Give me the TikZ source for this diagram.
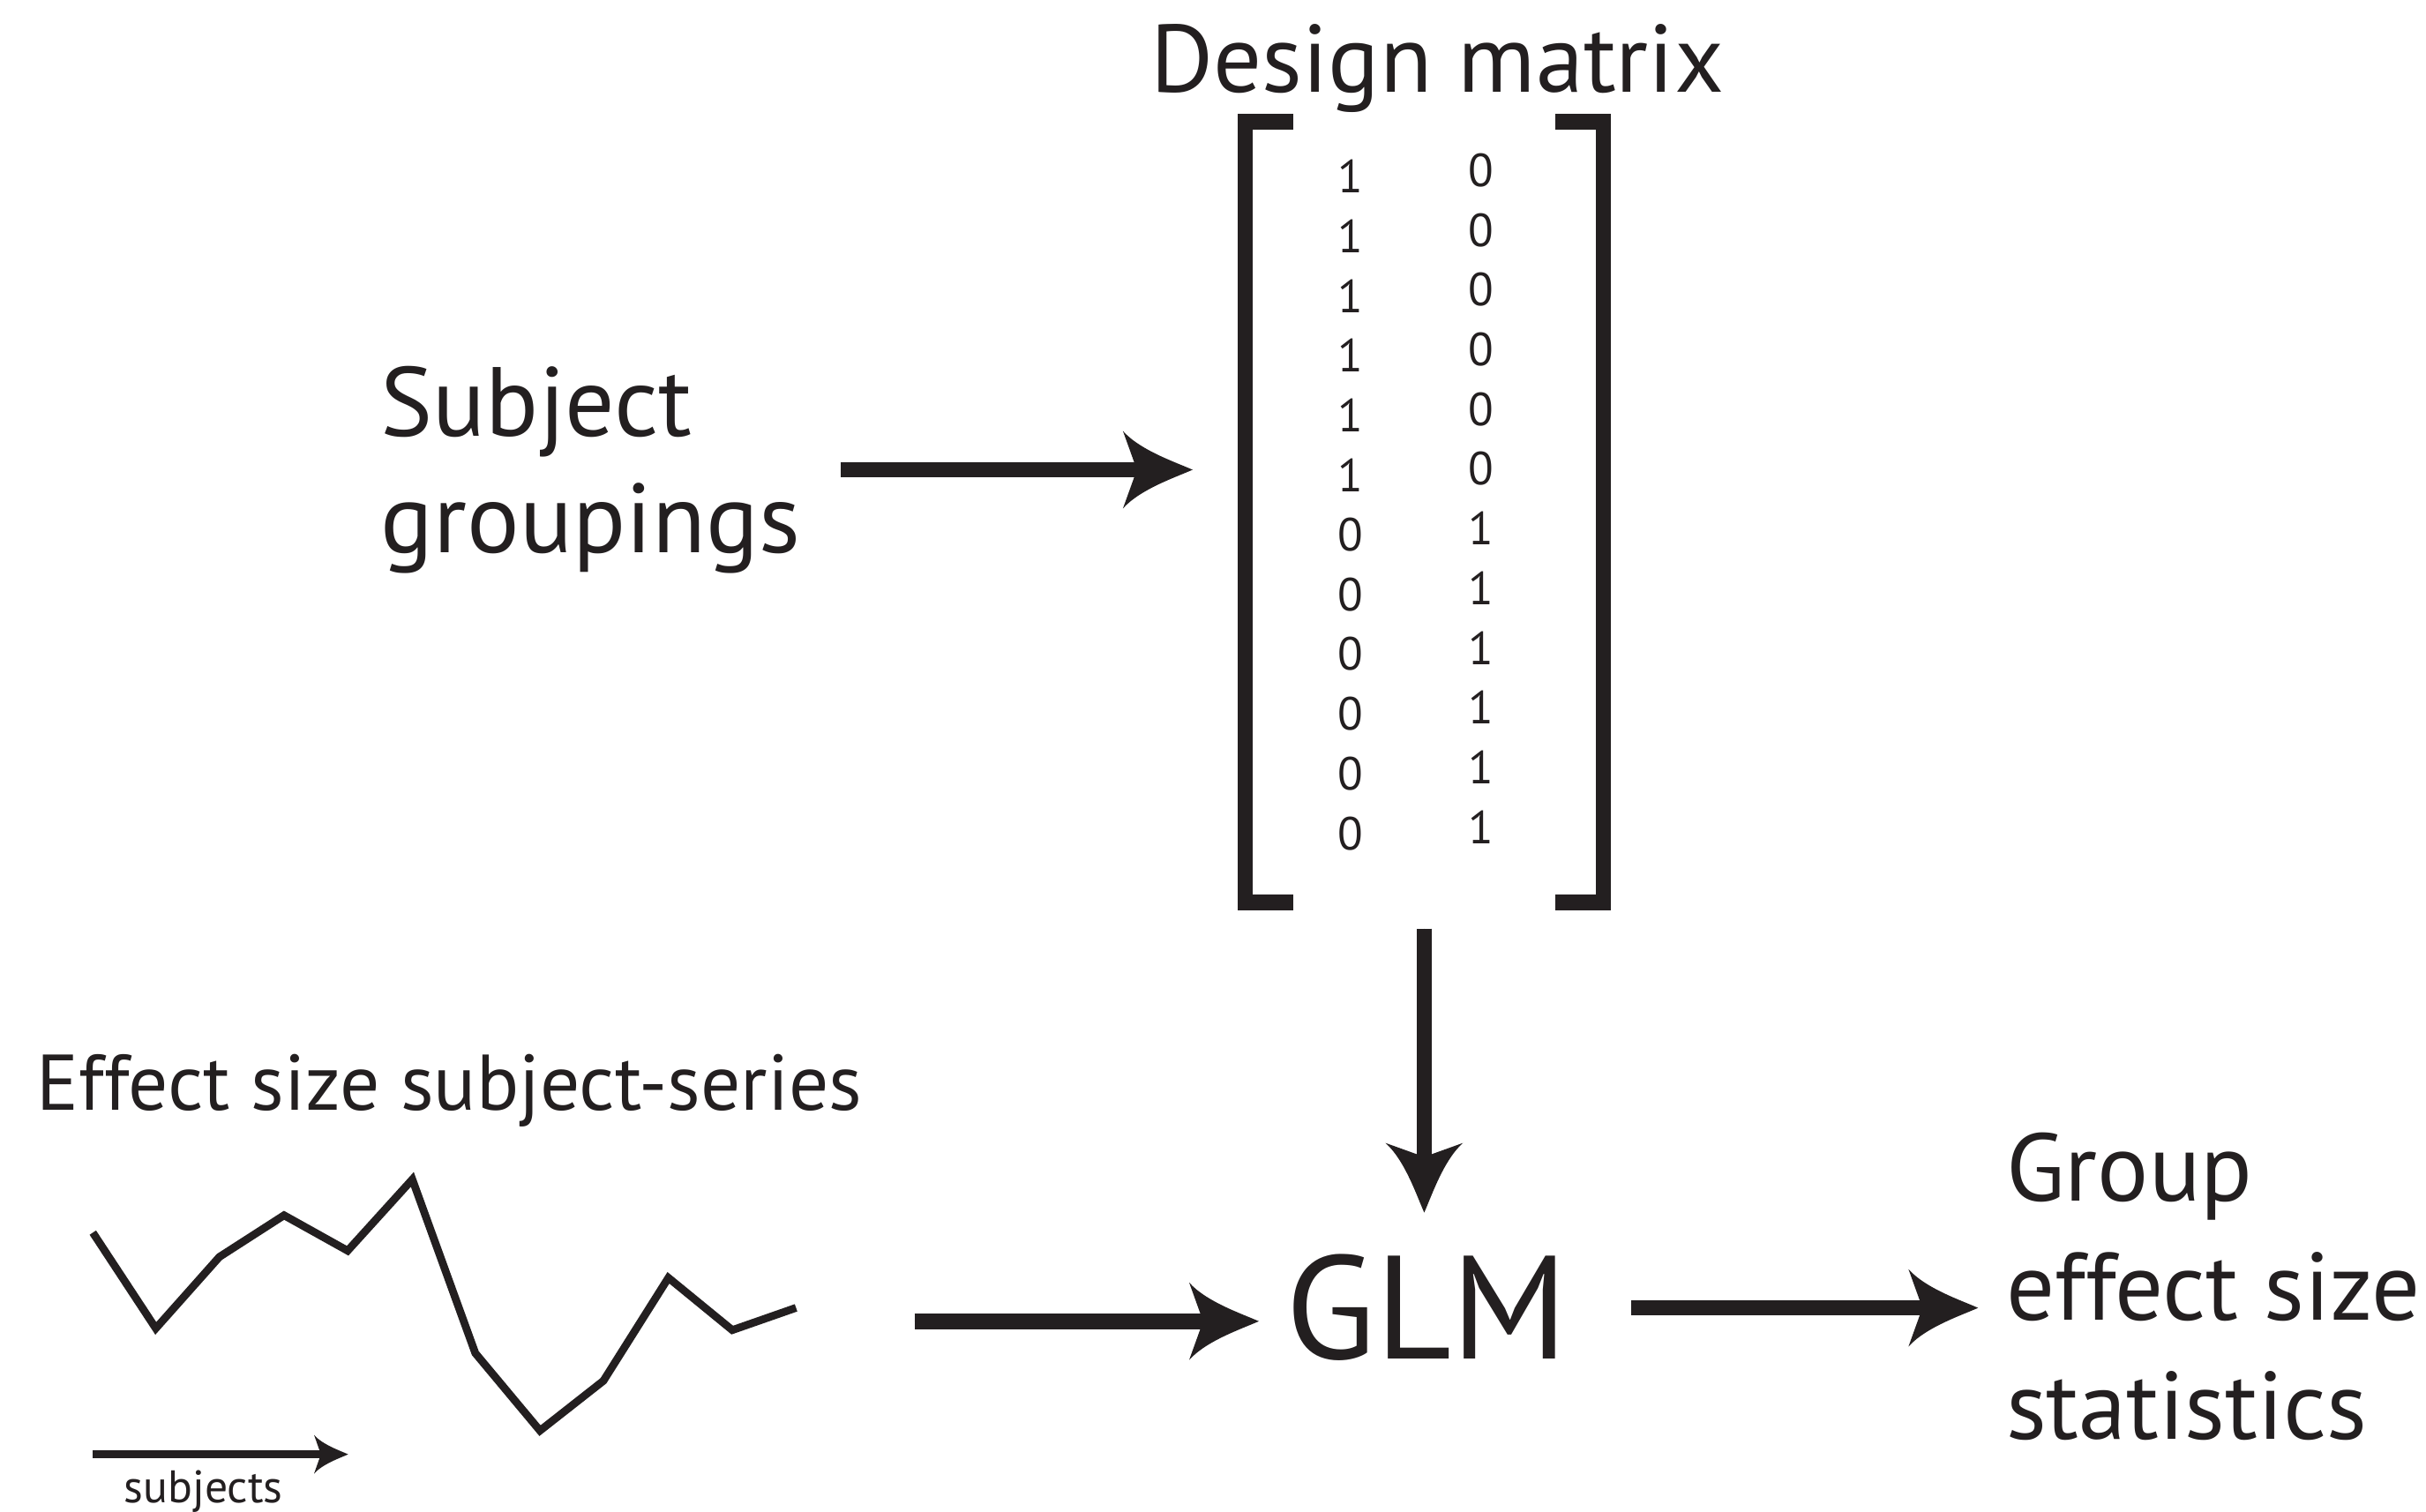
\documentclass[tikz,border=0pt]{standalone}
\usepackage{fontspec}
\setmainfont{PT Sans}
\usetikzlibrary{arrows.meta,calc}
\definecolor{ink}{RGB}{35,31,32}
\pgfdeclarearrow{
  name = Swoop,
  parameters = {\the\pgfarrowlength,\the\pgfarrowwidth},
  setup code = {
    \pgfarrowssettipend{\pgfarrowlength}
    \pgfarrowssetbackend{0pt}
    \pgfarrowssetlineend{.3\pgfarrowlength}
    \pgfarrowssavethe\pgfarrowlength
    \pgfarrowssavethe\pgfarrowwidth
  },
  drawing code = {
    \pgfpathmoveto{\pgfqpoint{\pgfarrowlength}{0pt}}
    \pgfpathcurveto{\pgfqpoint{.75\pgfarrowlength}{.1\pgfarrowwidth}}{\pgfqpoint{.25\pgfarrowlength}{.25\pgfarrowwidth}}{\pgfqpoint{0pt}{.5\pgfarrowwidth}}
    \pgfpathlineto{\pgfqpoint{.2\pgfarrowlength}{0pt}}
    \pgfpathlineto{\pgfqpoint{0pt}{-.5\pgfarrowwidth}}
    \pgfpathcurveto{\pgfqpoint{.25\pgfarrowlength}{-.25\pgfarrowwidth}}{\pgfqpoint{.75\pgfarrowlength}{-.1\pgfarrowwidth}}{\pgfqpoint{\pgfarrowlength}{0pt}}
    \pgfpathclose
    \pgfusepathqfill
  },
  defaults = {length = 12pt, width = 12pt}
}
\tikzset{
  txt/.style={inner sep=0pt, text=ink},
  bigtxt/.style={txt, font=\fontsize{62}{75}\selectfont},
  digit/.style={txt, font=\fontsize{30}{30}\selectfont},
  bigarr/.style={draw=ink, fill=ink, line width=10pt, -{Swoop[length=45pt,width=50pt]}},
  smallarr/.style={draw=ink, fill=ink, line width=5pt, -{Swoop[length=22pt,width=25pt]}},
  bracketline/.style={draw=ink, line width=10pt, line join=miter},
  series/.style={draw=ink, line width=5pt, line join=miter}
}
\begin{document}
\begin{tikzpicture}[x=1pt,y=-1pt]
\useasboundingbox (0,0) rectangle (1568,977);
% texts
\node[bigtxt, anchor=base] (dm) at (929,59.5) {Design matrix};
\node[bigtxt, font=\fontsize{63.5}{75}\selectfont, align=left, anchor=base west] (sg) at (246,357) {Subject\\groupings};
\node[txt, font=\fontsize{95}{95}\selectfont, anchor=base] (glm) at (922,878.6) {GLM};
\node[bigtxt, font=\fontsize{62}{77}\selectfont, align=left, anchor=base west] (grp) at (1296.5,930.5) {Group\\effect size\\statistics};
\node[txt, font=\fontsize{51}{51}\selectfont, anchor=base west] (ess) at (23.6,717.6) {Effect size subject-series};
\node[txt, font=\fontsize{29.5}{29.5}\selectfont, anchor=base] (subjlbl) at (131.5,971.5) {subjects};
% design matrix
\node[inner sep=0pt, minimum width=231pt, minimum height=504pt] (mat) at (920.5,331) {};
\draw[bracketline] ([xshift=31pt]mat.north west) -- (mat.north west) -- (mat.south west) -- ([xshift=31pt]mat.south west);
\draw[bracketline] ([xshift=-31pt]mat.north east) -- (mat.north east) -- (mat.south east) -- ([xshift=-31pt]mat.south east);
\foreach \v [count=\i] in {1,1,1,1,1,1,0,0,0,0,0,0}
  \node[digit] (ca\i) at (873,{114+(\i-1)*38.6}) {\v};
\foreach \v [count=\i] in {0,0,0,0,0,0,1,1,1,1,1,1}
  \node[digit] (cb\i) at (957,{110+(\i-1)*38.6}) {\v};
% subject series
\draw[series] (60,796.7) -- (100.7,858.6) -- (141.8,812.4) -- (183.6,785.5) -- (224.7,808.4) -- (266.5,762.3) -- (307.2,874.6) -- (349,924.7) -- (390,892.5) -- (432,825.9) -- (473.3,859.7) -- (514.5,845.3);
\coordinate (sa) at (60,940);
\coordinate (sb) at (225,940);
\draw[smallarr] (sa) -- (sb);
% connectors
\draw[bigarr, shorten <=26pt, shorten >=34pt] (sg.east) -- (sg.east -| mat.west);
\draw[bigarr, shorten <=17pt, shorten >=27pt] (mat.south) -- (mat.south |- glm.north);
\draw[bigarr, shorten <=41pt, shorten >=18pt] (glm.east) -- (glm.east -| grp.west);
\coordinate (sout) at (591,854);
\draw[bigarr, shorten >=17pt] (sout) -- (sout -| glm.west);
\end{tikzpicture}
\end{document}
